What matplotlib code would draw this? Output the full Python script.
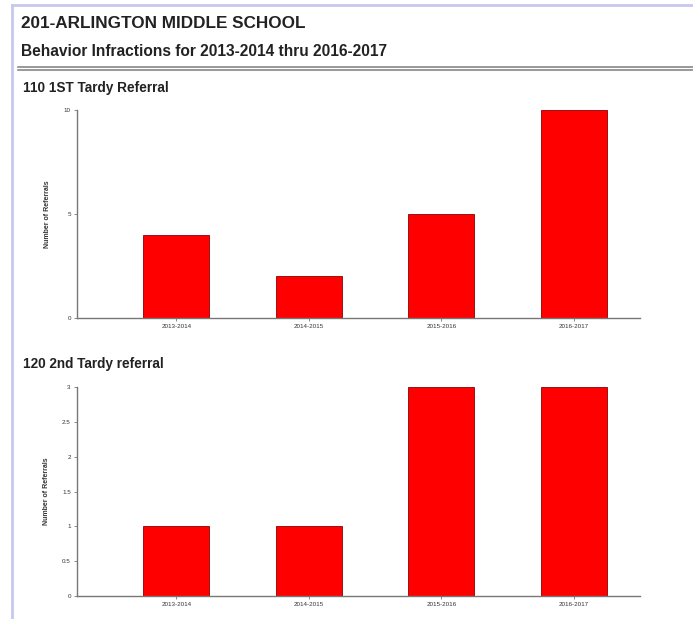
import matplotlib
matplotlib.use("Agg")
import matplotlib.pyplot as plt
from matplotlib.lines import Line2D

school = "201-ARLINGTON MIDDLE SCHOOL"
subtitle = "Behavior Infractions for 2013-2014 thru 2016-2017"
years = ["2013-2014", "2014-2015", "2015-2016", "2016-2017"]
chart1_title = "110 1ST Tardy Referral"
chart1_values = [4, 2, 5, 10]
chart1_ticks = [0, 5, 10]
chart2_title = "120 2nd Tardy referral"
chart2_values = [1, 1, 3, 3]
chart2_ticks = [0, 0.5, 1, 1.5, 2, 2.5, 3]
ylabel = "Number of Referrals"

W, H = 693, 619
fig = plt.figure(figsize=(W / 100, H / 100), dpi=100)
plt.rcParams['font.family'] = ['Liberation Sans', 'DejaVu Sans']

def fx(x):
    return x / W

def fy(y):
    return 1 - y / H

# page border (lavender)
border = "#c8c8ee"
fig.add_artist(Line2D([fx(12), 1], [fy(5), fy(5)], color=border, lw=2))
fig.add_artist(Line2D([fx(12), fx(12)], [fy(5), 0], color=border, lw=2))

fig.text(fx(21), fy(24), school, fontsize=12.3, fontweight="bold", color="#222222", va="center", ha="left")
fig.text(fx(21), fy(51), subtitle, fontsize=11.2, fontweight="bold", color="#222222", va="center", ha="left")
fig.add_artist(Line2D([fx(18), 1], [fy(66.5), fy(66.5)], color="#888888", lw=1.2))
fig.add_artist(Line2D([fx(18), 1], [fy(70), fy(70)], color="#888888", lw=1.2))


def draw(top, bottom, title, title_y, values, ticks):
    left, right = 77, 640
    ax = fig.add_axes([fx(left), fy(bottom), fx(right - left), (bottom - top) / H])
    x = list(range(len(years)))
    ax.bar(x, values, width=0.5, color="#ff0000", edgecolor="#8b0000", linewidth=0.6)
    ax.set_xlim(-0.75, 3.5)
    ax.set_ylim(0, ticks[-1])
    ax.set_yticks(ticks)
    ax.set_yticklabels([f"{t:g}" for t in ticks])
    ax.set_xticks(x)
    ax.set_xticklabels(years)
    for s in ["top", "right"]:
        ax.spines[s].set_visible(False)
    for s in ["left", "bottom"]:
        ax.spines[s].set_color("#777777")
        ax.spines[s].set_linewidth(1.0)
    ax.tick_params(axis="both", labelsize=4.5, colors="#777777", length=2.5, width=0.6,
                   labelcolor="#333333", pad=2)
    ax.set_ylabel(ylabel, fontsize=5, fontweight="bold", color="#333333", labelpad=9)
    fig.text(fx(23), fy(title_y), title, fontsize=9.8, fontweight="bold", color="#222222",
             va="center", ha="left")
    return ax

draw(110, 318, chart1_title, 88, chart1_values, chart1_ticks)
draw(387, 596, chart2_title, 364, chart2_values, chart2_ticks)

fig.savefig("out.png", dpi=100, facecolor="white")
